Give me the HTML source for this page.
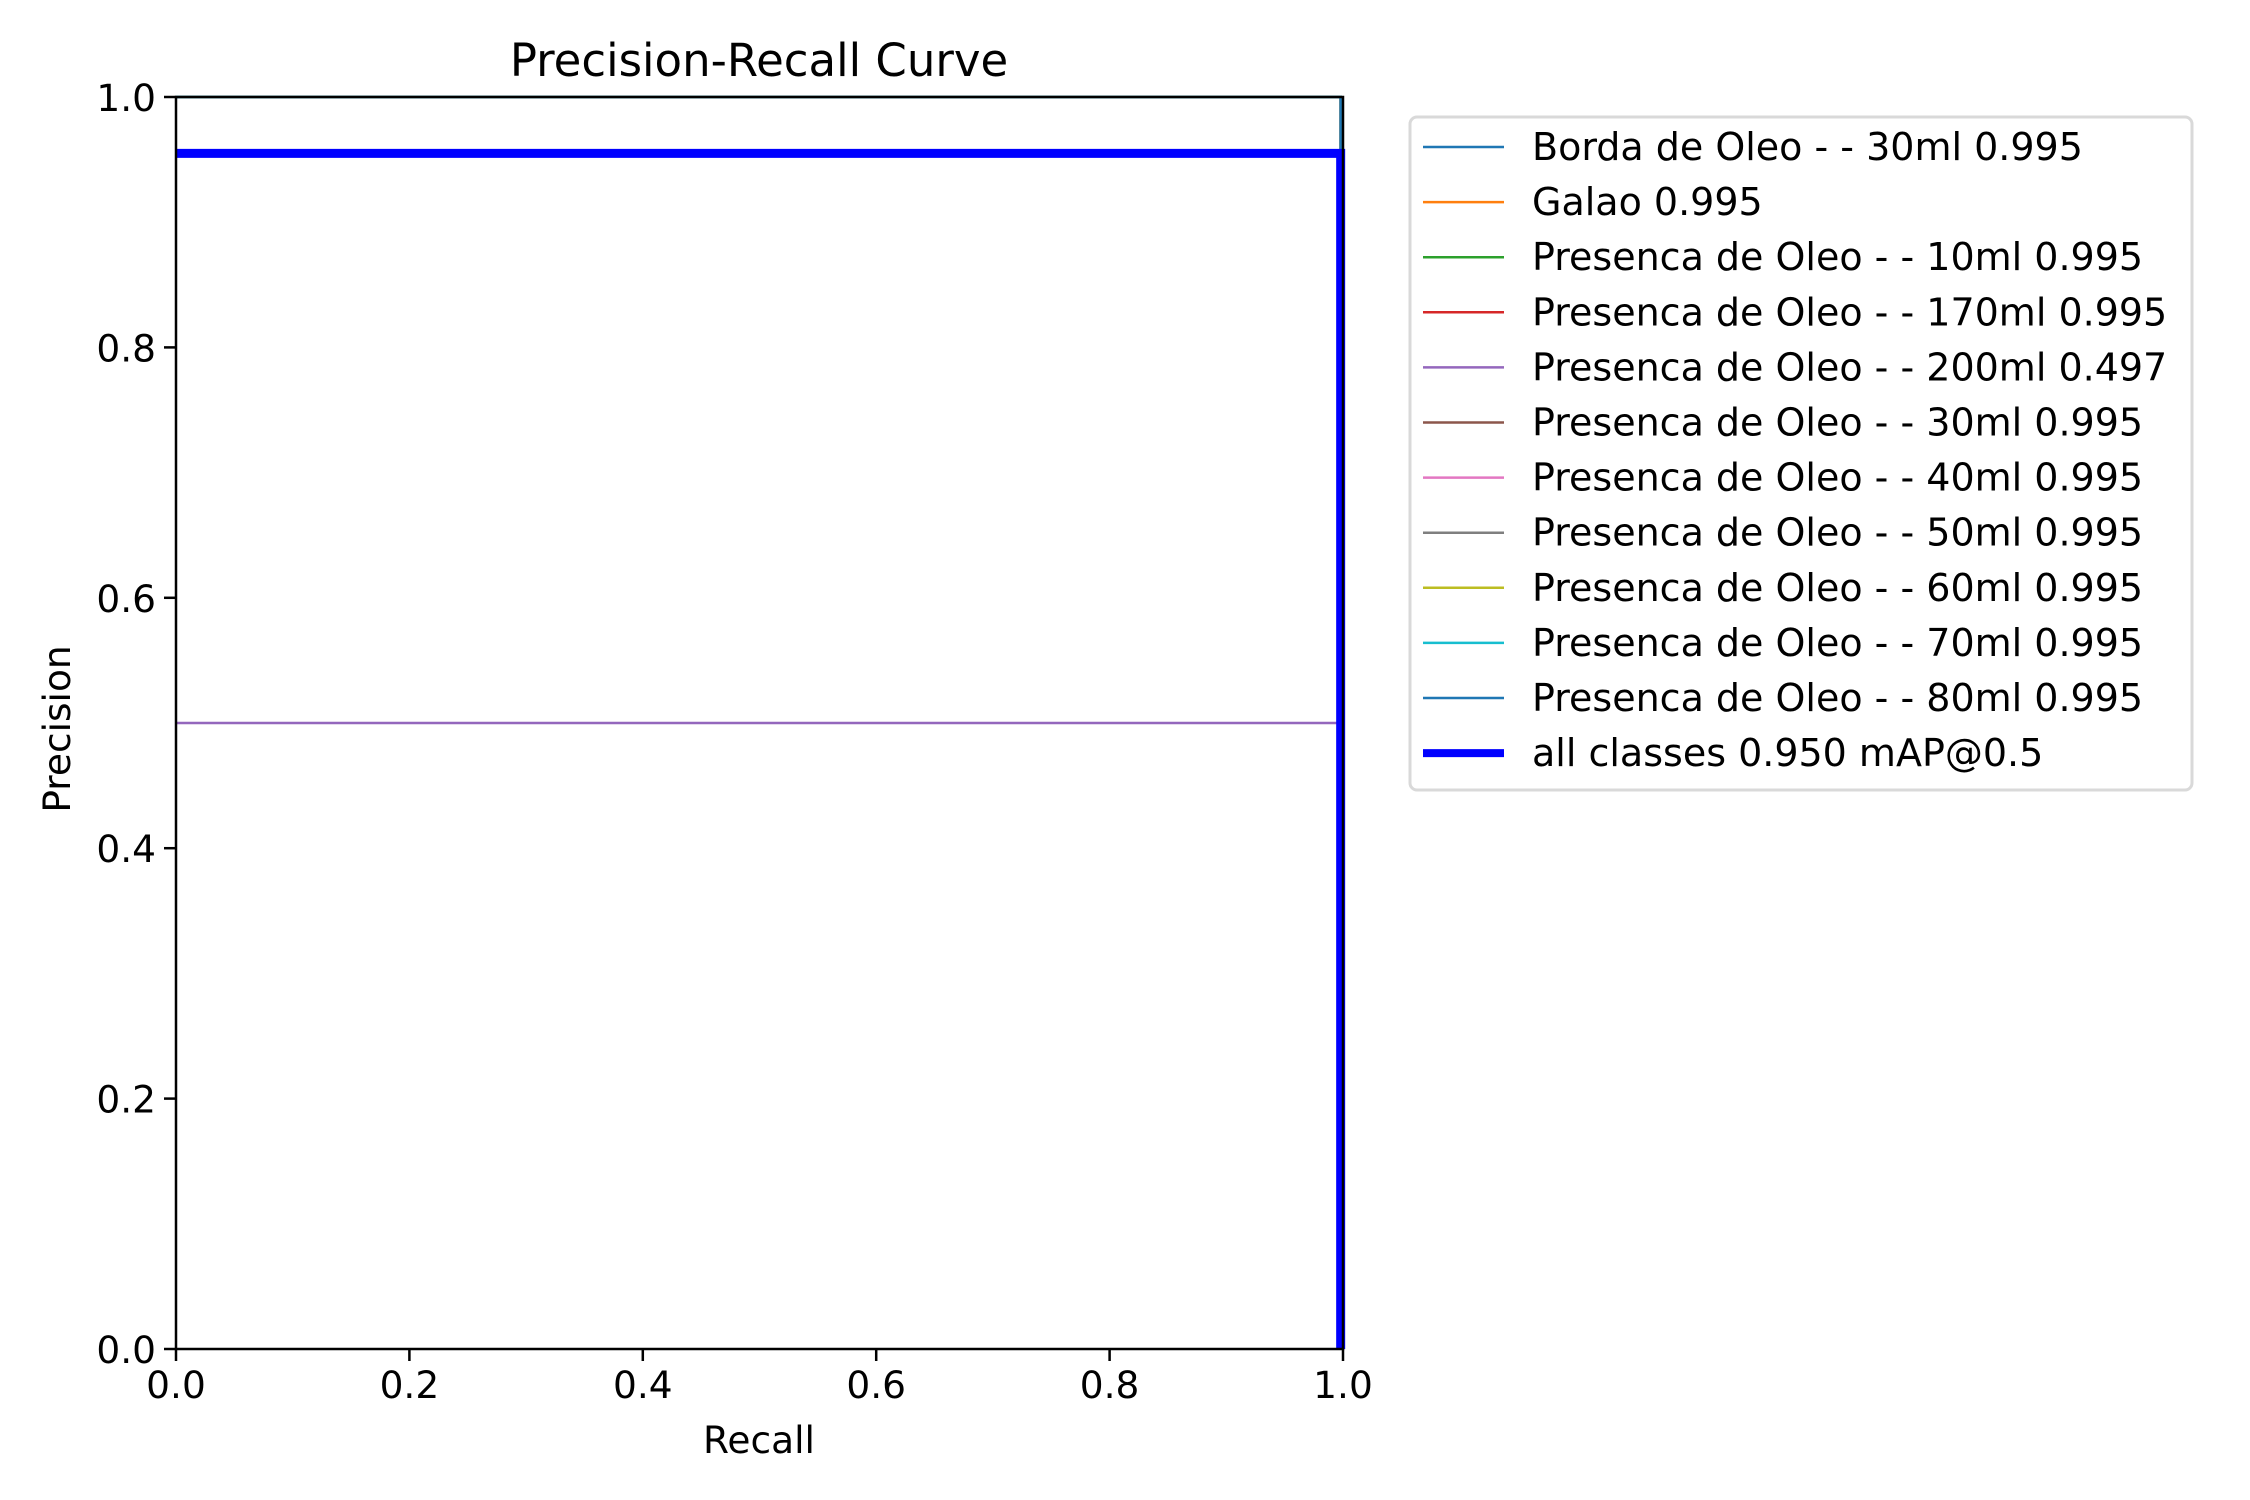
<!DOCTYPE html>
<html><head><meta charset="utf-8"><style>
html,body{margin:0;padding:0;background:#fff}
svg{display:block;font-family:"DejaVu Sans","Liberation Sans",sans-serif}
</style></head><body>
<svg id="chart" width="2250" height="1500" viewBox="0 0 2250 1500" xmlns="http://www.w3.org/2000/svg">
<rect width="2250" height="1500" fill="#fff"/>
<text x="759" y="76" font-size="45" text-anchor="middle">Precision-Recall Curve</text>
<g id="plot"></g>
<g id="axes"></g>
<text x="759" y="1453" font-size="37.5" text-anchor="middle">Recall</text>
<text x="70" y="729" font-size="37.5" text-anchor="middle" transform="rotate(-90 70 729)">Precision</text>
<g id="legend"></g>
</svg>
<script>
const classNames = ["Borda de Oleo - - 30ml","Galao","Presenca de Oleo - - 10ml","Presenca de Oleo - - 170ml","Presenca de Oleo - - 200ml","Presenca de Oleo - - 30ml","Presenca de Oleo - - 40ml","Presenca de Oleo - - 50ml","Presenca de Oleo - - 60ml","Presenca de Oleo - - 70ml","Presenca de Oleo - - 80ml"];
const classAP = [0.995,0.995,0.995,0.995,0.497,0.995,0.995,0.995,0.995,0.995,0.995];
const classPrecision = [1,1,1,1,0.5,1,1,1,1,1,1];
const classColors = ["#1f77b4","#ff7f0e","#2ca02c","#d62728","#9467bd","#8c564b","#e377c2","#7f7f7f","#bcbd22","#17becf","#1f77b4"];
const allPrecision = 0.955;
const allMAP = 0.950;
const recallEnd = 0.998;
const tickValues = [0,0.2,0.4,0.6,0.8,1.0];
const tickLabels = ["0.0","0.2","0.4","0.6","0.8","1.0"];

const NS="http://www.w3.org/2000/svg";
const L=176,R=1343,T=97,B=1349;
const xs=v=>L+v*(R-L), ys=v=>B-v*(B-T);
function mk(tag,attrs,parent){const e=document.createElementNS(NS,tag);for(const k in attrs)e.setAttribute(k,attrs[k]);parent.appendChild(e);return e;}
const plot=document.getElementById('plot'), axes=document.getElementById('axes'), leg=document.getElementById('legend');

classPrecision.forEach((p,i)=>{
  const pl=mk('polyline',{points:`${xs(0)},${ys(p)} ${xs(recallEnd)},${ys(p)} ${xs(recallEnd)},${ys(0)}`,fill:'none',stroke:classColors[i],'stroke-width':2.5},plot);
  
  
});
const al=mk('polyline',{points:`${xs(0)},${ys(allPrecision)} ${xs(recallEnd)},${ys(allPrecision)} ${xs(recallEnd)},${ys(0)}`,fill:'none',stroke:'#0000ff','stroke-width':9},plot);



const fr=mk('rect',{x:L,y:T,width:R-L,height:B-T,fill:'none',stroke:'#000','stroke-width':2.5},axes);


tickValues.forEach((v,i)=>{
  const t1=mk('line',{x1:xs(v),x2:xs(v),y1:B,y2:B+12,stroke:'#000','stroke-width':2.5},axes);
  
  
  const l1=mk('text',{x:xs(v),y:B+49,'font-size':37.5,'text-anchor':'middle'},axes);l1.textContent=tickLabels[i];
  
  
  const t2=mk('line',{x1:L-12,x2:L,y1:ys(v),y2:ys(v),stroke:'#000','stroke-width':2.5},axes);
  
  
  const l2=mk('text',{x:L-20,y:ys(v)+14,'font-size':37.5,'text-anchor':'end'},axes);l2.textContent=tickLabels[i];
  
  
});

const box=mk('rect',{x:1410,y:117,width:782,height:673,rx:7,fill:'#fff',stroke:'#d9d9d9','stroke-width':3},leg);


const rowY0=147,rowDy=55.1;
const entries=classNames.map((n,i)=>({label:n+' '+classAP[i].toFixed(3),color:classColors[i],w:2.5}));
entries.push({label:'all classes '+allMAP.toFixed(3)+' mAP@0.5',color:'#0000ff',w:8});
entries.forEach((e,i)=>{
  const y=rowY0+i*rowDy;
  const ln=mk('line',{x1:1423,x2:1504,y1:y,y2:y,stroke:e.color,'stroke-width':e.w},leg);
  
  
  const tx=mk('text',{x:1532,y:y+13,'font-size':38},leg);tx.textContent=e.label;
  
  
});
</script>
</body></html>
